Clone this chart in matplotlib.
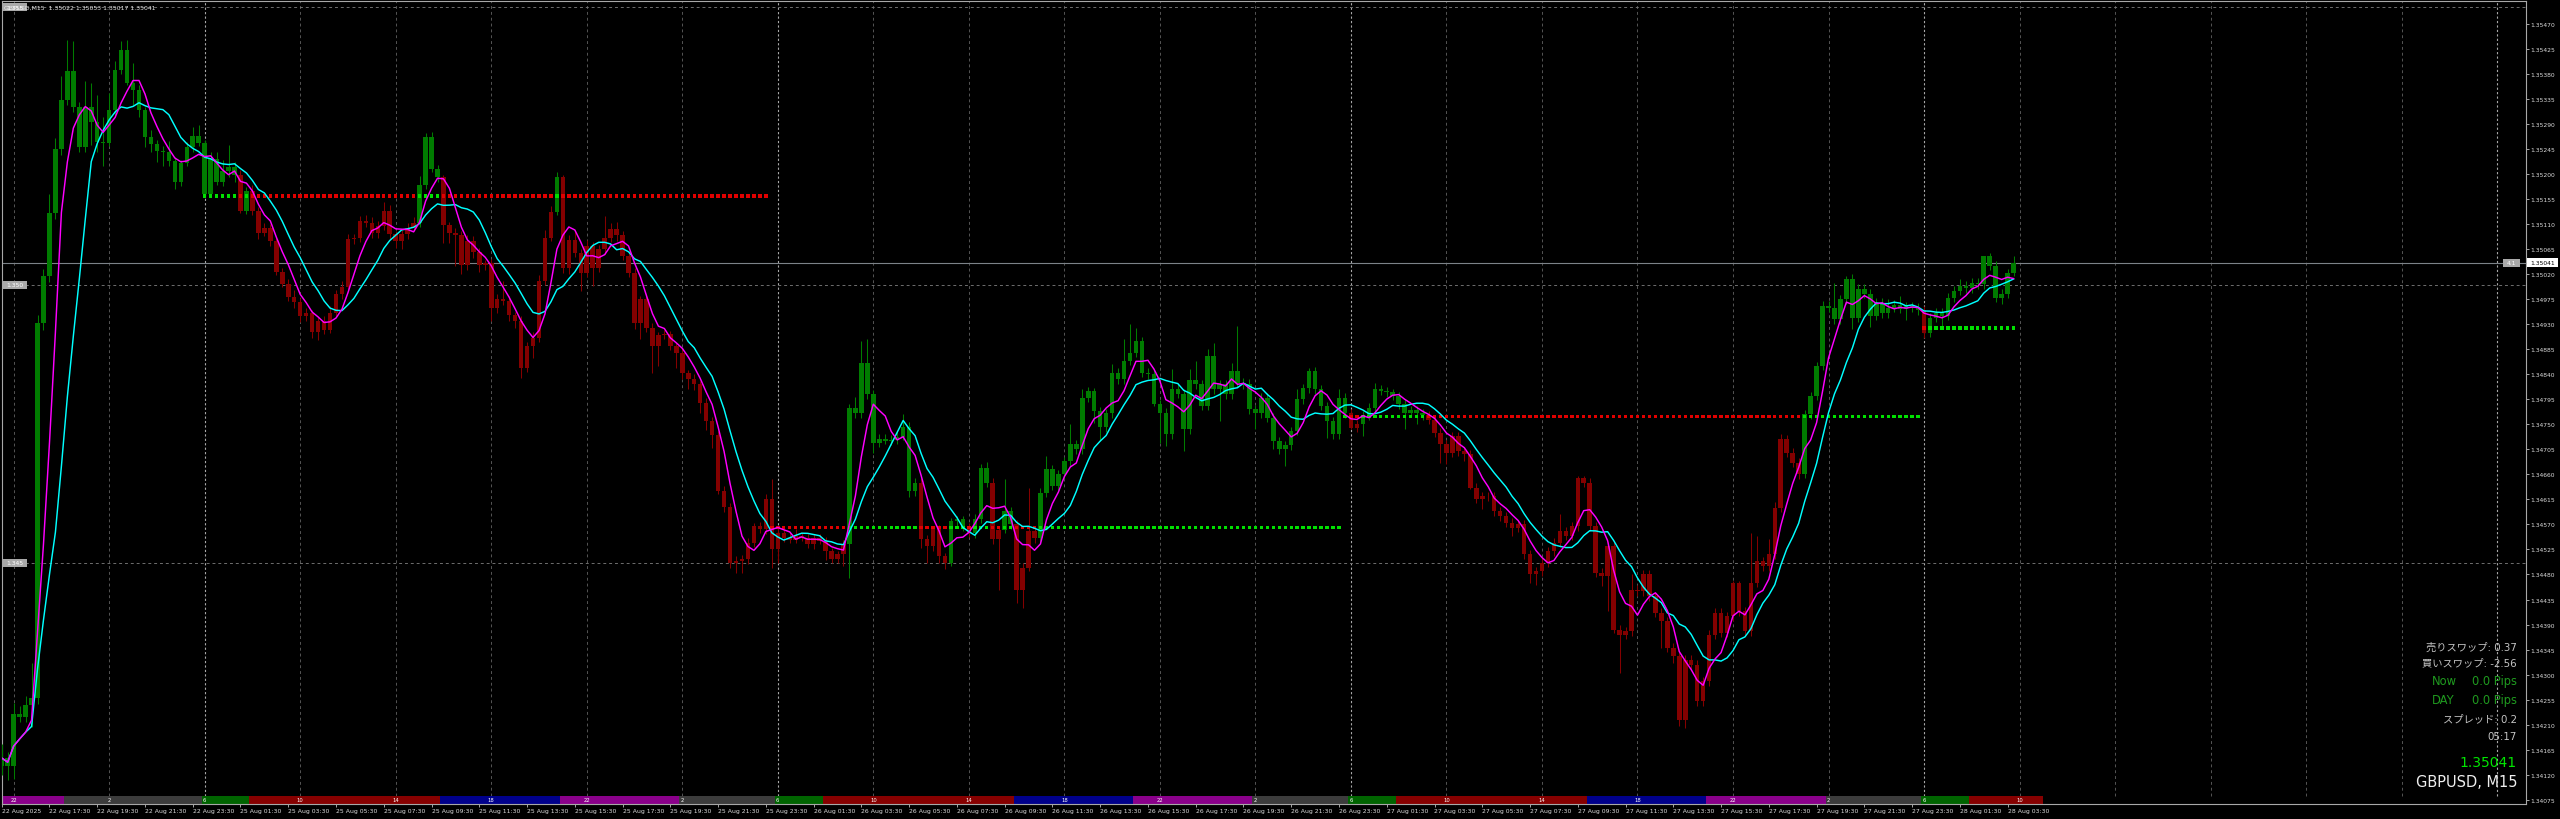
import numpy as np
import pandas as pd
import matplotlib
matplotlib.use("Agg")
import matplotlib.pyplot as plt
from matplotlib.patches import Rectangle
import matplotlib.transforms as mtrans

# ---------------- data (prices as 1.34 + points * 1e-5) ----------------
BASE = 1.34
PT = 1e-5
open0 = 135
closes = [
    150, 135, 229, 223, 245, 258, 932, 1016, 1130, 1245,
    1333, 1386, 1320, 1249, 1320, 1293, 1258, 1256, 1315, 1388,
    1424, 1364, 1351, 1315, 1267, 1254, 1242, 1240, 1224, 1185,
    1220, 1249, 1268, 1256, 1165, 1227, 1185, 1205, 1213, 1198,
    1134, 1169, 1134, 1094, 1103, 1079, 1024, 1002, 979, 970,
    944, 950, 917, 935, 920, 950, 984, 997, 1083, 1086,
    1115, 1113, 1095, 1107, 1134, 1092, 1080, 1092, 1104, 1113,
    1181, 1266, 1209, 1194, 1108, 1095, 1090, 1036, 1080, 1060,
    1036, 1040, 960, 975, 972, 946, 936, 852, 891, 906,
    1008, 1086, 1132, 1194, 1031, 1082, 1059, 1023, 1070, 1032,
    1065, 1086, 1102, 1090, 1053, 1023, 933, 975, 924, 891,
    910, 912, 891, 879, 842, 832, 822, 789, 756, 730,
    630, 602, 501, 505, 507, 537, 567, 561, 615, 525,
    555, 546, 542, 549, 546, 534, 546, 540, 522, 508,
    516, 534, 779, 770, 861, 804, 717, 723, 720, 722,
    728, 746, 630, 645, 543, 531, 561, 513, 501, 576,
    579, 567, 555, 580, 672, 645, 543, 560, 594, 570,
    453, 492, 558, 545, 627, 669, 640, 660, 684, 714,
    705, 798, 810, 774, 745, 770, 843, 831, 864, 879,
    900, 843, 840, 786, 771, 732, 814, 805, 741, 830,
    822, 783, 873, 813, 822, 804, 846, 825, 822, 777,
    770, 798, 762, 720, 705, 712, 738, 795, 815, 846,
    813, 783, 756, 732, 798, 770, 744, 750, 766, 780,
    813, 810, 808, 801, 786, 771, 775, 770, 766, 758,
    735, 714, 699, 729, 702, 696, 636, 615, 621, 621,
    594, 585, 573, 564, 570, 516, 480, 486, 501, 522,
    537, 558, 550, 567, 654, 645, 567, 483, 478, 531,
    381, 372, 378, 453, 450, 480, 441, 411, 396, 348,
    333, 219, 327, 318, 252, 288, 372, 411, 375, 405,
    465, 414, 378, 465, 504, 495, 516, 600, 723, 699,
    681, 660, 768, 801, 855, 963, 960, 939, 975, 1012,
    942, 994, 985, 945, 969, 950, 960, 965, 958, 962,
    960, 955, 915, 942, 951, 945, 978, 990, 999, 995,
    1005, 1002, 1053, 1035, 978, 985, 1022, 1041,
]
wick_up = [
    25, 10, 20, 15, 17, 62, 15, 14, 35, 20,
    44, 56, 53, 10, 48, 44, 49, 44, 31, 16,
    15, 17, 35, 9, 5, 13, 8, 8, 20, 6,
    6, 9, 16, 21, 6, 13, 13, 20, 40, 9,
    10, 8, 12, 6, 10, 8, 6, 8, 10, 12,
    8, 10, 6, 8, 10, 12, 8, 10, 9, 6,
    10, 12, 10, 8, 15, 10, 6, 8, 8, 10,
    16, 8, 10, 8, 4, 6, 8, 8, 10, 8,
    8, 6, 8, 10, 33, 8, 6, 8, 8, 10,
    10, 14, 10, 9, 5, 8, 15, 6, 12, 8,
    8, 39, 10, 12, 8, 8, 8, 6, 10, 8,
    6, 8, 6, 6, 8, 6, 8, 6, 8, 8,
    8, 10, 6, 8, 8, 8, 6, 8, 10, 36,
    8, 6, 8, 12, 6, 6, 6, 6, 8, 6,
    6, 8, 7, 20, 39, 42, 8, 10, 10, 8,
    10, 22, 8, 8, 8, 8, 6, 8, 6, 6,
    6, 6, 6, 8, 6, 10, 8, 8, 57, 8,
    8, 8, 78, 8, 8, 24, 8, 8, 8, 36,
    8, 15, 8, 6, 8, 8, 15, 8, 39, 51,
    24, 8, 8, 8, 8, 8, 35, 8, 8, 19,
    34, 8, 12, 24, 8, 8, 15, 81, 8, 9,
    8, 8, 8, 8, 8, 8, 8, 18, 8, 6,
    8, 8, 8, 8, 15, 8, 8, 8, 8, 8,
    12, 8, 8, 5, 8, 8, 8, 8, 8, 8,
    8, 8, 8, 8, 8, 8, 8, 8, 8, 8,
    8, 8, 8, 8, 8, 8, 8, 8, 8, 8,
    8, 30, 8, 8, 3, 3, 8, 8, 8, 8,
    8, 8, 8, 27, 8, 8, 8, 8, 8, 8,
    8, 8, 8, 8, 8, 8, 8, 8, 8, 8,
    3, 3, 8, 90, 45, 8, 27, 10, 9, 8,
    8, 8, 8, 8, 8, 9, 8, 45, 8, 5,
    8, 8, 8, 8, 8, 8, 15, 8, 15, 8,
    8, 8, 8, 8, 8, 8, 8, 8, 12, 8,
    8, 8, 0, 5, 8, 8, 8, 12,
]
wick_dn = [
    15, 25, 23, 8, 8, 40, 10, 12, 10, 10,
    10, 8, 9, 9, 9, 40, 18, 42, 6, 10,
    8, 4, 27, 13, 18, 14, 20, 26, 10, 11,
    7, 5, 9, 6, 5, 5, 5, 7, 10, 13,
    4, 6, 8, 10, 6, 8, 6, 5, 8, 10,
    10, 8, 12, 15, 8, 6, 6, 8, 6, 8,
    8, 8, 10, 10, 8, 8, 12, 14, 8, 6,
    8, 8, 6, 8, 31, 18, 55, 16, 8, 10,
    12, 8, 24, 10, 8, 10, 12, 18, 8, 21,
    8, 8, 6, 6, 8, 10, 8, 33, 8, 33,
    8, 8, 8, 10, 8, 8, 12, 30, 8, 48,
    36, 6, 8, 27, 10, 19, 10, 18, 16, 22,
    6, 10, 9, 18, 22, 8, 8, 6, 8, 33,
    25, 8, 6, 6, 6, 6, 8, 6, 16, 8,
    8, 21, 60, 8, 8, 8, 18, 8, 6, 8,
    8, 6, 10, 8, 15, 30, 8, 12, 12, 6,
    8, 8, 8, 10, 8, 8, 8, 90, 6, 8,
    24, 33, 6, 8, 6, 8, 8, 8, 8, 8,
    8, 8, 8, 21, 25, 8, 8, 8, 8, 8,
    8, 8, 8, 3, 54, 21, 8, 8, 39, 8,
    8, 8, 8, 8, 57, 8, 8, 8, 8, 8,
    29, 8, 8, 15, 8, 30, 8, 8, 8, 8,
    8, 8, 30, 8, 8, 8, 3, 8, 21, 8,
    8, 8, 8, 8, 8, 30, 8, 20, 8, 8,
    8, 33, 20, 8, 8, 12, 3, 6, 18, 8,
    8, 8, 8, 15, 8, 8, 15, 18, 8, 8,
    8, 8, 8, 8, 8, 8, 8, 8, 19, 64,
    6, 69, 8, 8, 8, 8, 8, 8, 48, 8,
    12, 12, 15, 8, 8, 8, 8, 8, 8, 8,
    8, 8, 8, 8, 8, 8, 8, 8, 8, 8,
    8, 8, 6, 8, 8, 8, 8, 8, 8, 8,
    20, 8, 8, 20, 8, 8, 8, 8, 8, 20,
    8, 8, 9, 8, 8, 20, 8, 8, 8, 8,
    8, 8, 8, 8, 8, 12, 8, 5,
]
# support / resistance levels: (first bar, last bar, price)
level_segments = [(34, 128, 1.35161), (129, 224, 1.34565),
                  (225, 321, 1.34764), (322, 337, 1.34923)]
# session band: (start bar, end bar, session)
session_segments = [
    (0, 11, "late"), (11, 34, "night"), (34, 42, "tokyo"), (42, 74, "europe"),
    (74, 94, "ny"), (94, 114, "late"), (114, 130, "night"), (130, 138, "tokyo"),
    (138, 170, "europe"), (170, 190, "ny"), (190, 210, "late"), (210, 226, "night"),
    (226, 234, "tokyo"), (234, 266, "europe"), (266, 286, "ny"), (286, 306, "late"),
    (306, 322, "night"), (322, 330, "tokyo"), (330, 342.4, "europe"),
]
session_colors = {"late": "#8a008a", "night": "#3c3c3c", "tokyo": "#006400",
                  "europe": "#870000", "ny": "#00008b"}
session_hour_labels = ["22", "2", "6", "10", "14", "18", "22", "2", "6", "10", "14",
                       "18", "22", "2", "6", "10", "14", "18", "22", "2", "6", "10"]
round_levels = [1.355, 1.350, 1.345]
current_price = 1.35041
header_text = "GBPUSD,M15  1.35022 1.35053 1.35017 1.35041"
info_lines = ["売りスワップ: 0.37", "買いスワップ: -2.56", "スプレッド: 0.2", "05:17"]
pips_lines = [("Now", "0.0 Pips"), ("DAY", "0.0 Pips")]
symbol_text = "GBPUSD, M15"

n = len(closes)
times = pd.date_range("2025-08-22 15:30", "2025-08-22 23:45", freq="15min").append(
    pd.date_range("2025-08-25 00:00", periods=n - 34, freq="15min"))

# ---------------- figure ----------------
W, H, DPI = 2560, 820, 100
fig = plt.figure(figsize=(W / DPI, H / DPI), dpi=DPI, facecolor="black")
AX_L, AX_R, AX_T, AX_B = 1.7, 2526, 1.7, 804.5
ax = fig.add_axes([AX_L / W, (H - AX_B) / H, (AX_R - AX_L) / W, (AX_B - AX_T) / H])
ax.set_facecolor("black")

def px_to_bar(p):
    return (p - 1.7) / 5.97

def px_to_price(y):
    return 1.35470 - (y - 25) / 55606.0

ax.set_xlim(px_to_bar(AX_L), px_to_bar(AX_R))
ax.set_ylim(px_to_price(AX_B), px_to_price(AX_T))

GREEN, RED = "#007c00", "#840000"
LGREEN, LRED = "#00e000", "#e00000"

idx = np.arange(n)
c = BASE + np.array(closes) * PT
o = BASE + np.array([open0] + closes[:-1]) * PT
top = np.maximum(o, c)
bot = np.minimum(o, c)
hi = top + np.array(wick_up) * PT
lo = bot - np.array(wick_dn) * PT
level = np.full(n, np.nan)
for s, e, p in level_segments:
    level[s:e + 1] = p
up = np.isnan(level) | (c > level)
col = np.where(up, GREEN, RED)

# grid: vertical lines every 4h, brighter at day changes
for b in range(2, 423, 16):
    day = b in (34, 130, 226, 322, 418)
    ax.plot([b, b], [px_to_price(797), px_to_price(AX_T)],
            color="#a8a8a8" if day else "#555555",
            lw=0.8 if day else 0.7, ls=(0, (2, 2)) if day else (0, (3, 3)), zorder=1)
for lv in round_levels:
    ax.axhline(lv, color="#6e6e6e", lw=0.7, ls=(0, (3, 3)), zorder=1)
ax.axhline(current_price, color="#7c8288", lw=0.8, zorder=1.5)

# session band
band_tr = mtrans.blended_transform_factory(ax.transData, ax.transAxes)
band_h = (AX_B - 797) / (AX_B - AX_T)
for s, e, key in session_segments:
    ax.add_patch(Rectangle((s - 0.5, 0), e - s, band_h, transform=band_tr,
                           facecolor=session_colors[key], edgecolor="none", zorder=2))
for k, lab in enumerate(session_hour_labels):
    ax.text(2 + 16 * k, band_h / 2, lab, transform=band_tr, fontsize=3.8,
            color="white", ha="center", va="center", zorder=3)

# candles
ax.vlines(idx, lo, hi, colors=col, lw=0.75, zorder=3)
ax.bar(idx, np.maximum(top - bot, 0.7 * PT), bottom=bot, width=0.76,
       color=col, linewidth=0, zorder=3)

# level dots
m = ~np.isnan(level)
ax.scatter(idx[m], level[m], marker="s", s=6.0, linewidths=0,
           c=np.where(up[m], LGREEN, LRED), zorder=4)

# moving averages
cs = pd.Series(c)
ax.plot(idx, cs.rolling(10, min_periods=1).mean(), color="#00ffff", lw=1.05, zorder=5)
ax.plot(idx, cs.rolling(5, min_periods=1).mean(), color="#ff00ff", lw=1.05, zorder=6)

# axes styling
for sp in ax.spines.values():
    sp.set_color("#a8a8a8")
    sp.set_linewidth(0.8)
ax.yaxis.tick_right()
yt = np.round(1.34075 + 0.00045 * np.arange(32), 5)
ax.set_yticks(yt)
ax.set_yticklabels([f"{v:.5f}" for v in yt])
ax.tick_params(axis="y", colors="#c0c0c0", labelcolor="#dcdcdc", labelsize=4.3,
               length=2, width=0.6, pad=1.2)
xt = list(range(0, n, 8))
xl = [("22 Aug 2025" if i == 0 else times[i].strftime("%d %b %H:%M")) for i in xt]
ax.set_xticks(xt)
ax.set_xticklabels(xl, ha="left")
ax.tick_params(axis="x", colors="#c0c0c0", labelcolor="#dcdcdc", labelsize=4.4,
               length=2.5, width=0.6, pad=1.0)

# ---------------- overlay texts (pixel positions) ----------------
def fx(x):
    return x / W

def fy(y):
    return 1 - y / H

def box(x0, y0, x1, y1, fc):
    fig.patches.append(Rectangle((fx(x0), fy(y1)), (x1 - x0) / W, (y1 - y0) / H,
                                 transform=fig.transFigure, facecolor=fc,
                                 edgecolor="none", zorder=5))

fig.text(fx(4), fy(8), header_text, fontsize=4.4, color="#e8e8e8", va="center", zorder=6)
for lv, y in zip(round_levels, [8, 286, 564]):
    box(2.5, y - 4, 26.5, y + 4, "#a9a9a9")
    fig.text(fx(14.5), fy(y), f"{lv:.3f}", fontsize=4.3, color="white",
             ha="center", va="center", zorder=6)
box(2527, 259, 2558, 268, "white")
fig.text(fx(2542.5), fy(263.5), f"{current_price:.5f}", fontsize=4.3, color="black",
         ha="center", va="center", zorder=6)
box(2503, 259.5, 2520, 267.5, "#aaaaaa")
fig.text(fx(2511.5), fy(263.5), "4.1", fontsize=4.3, color="white",
         ha="center", va="center", zorder=6)

fam = ["DejaVu Sans", "Noto Sans CJK JP"]
for txt, y in zip(info_lines, [648, 663, 719, 737]):
    fig.text(fx(2517), fy(y), txt, fontsize=7.4, color="#c4c4c4", ha="right",
             va="center", family=fam, zorder=6)
for (a, b), y in zip(pips_lines, [682, 701]):
    fig.text(fx(2432), fy(y), a, fontsize=8.3, color="#1f9a1f", ha="left",
             va="center", zorder=6)
    fig.text(fx(2517), fy(y), b, fontsize=8.3, color="#1f9a1f", ha="right",
             va="center", zorder=6)
fig.text(fx(2517), fy(763), f"{current_price:.5f}", fontsize=10, color="#00e600",
         ha="right", va="center", zorder=6)
fig.text(fx(2517), fy(783), symbol_text, fontsize=10.5, color="#eeeeee",
         ha="right", va="center", zorder=6)

fig.savefig("out.png", dpi=DPI, facecolor="black")
